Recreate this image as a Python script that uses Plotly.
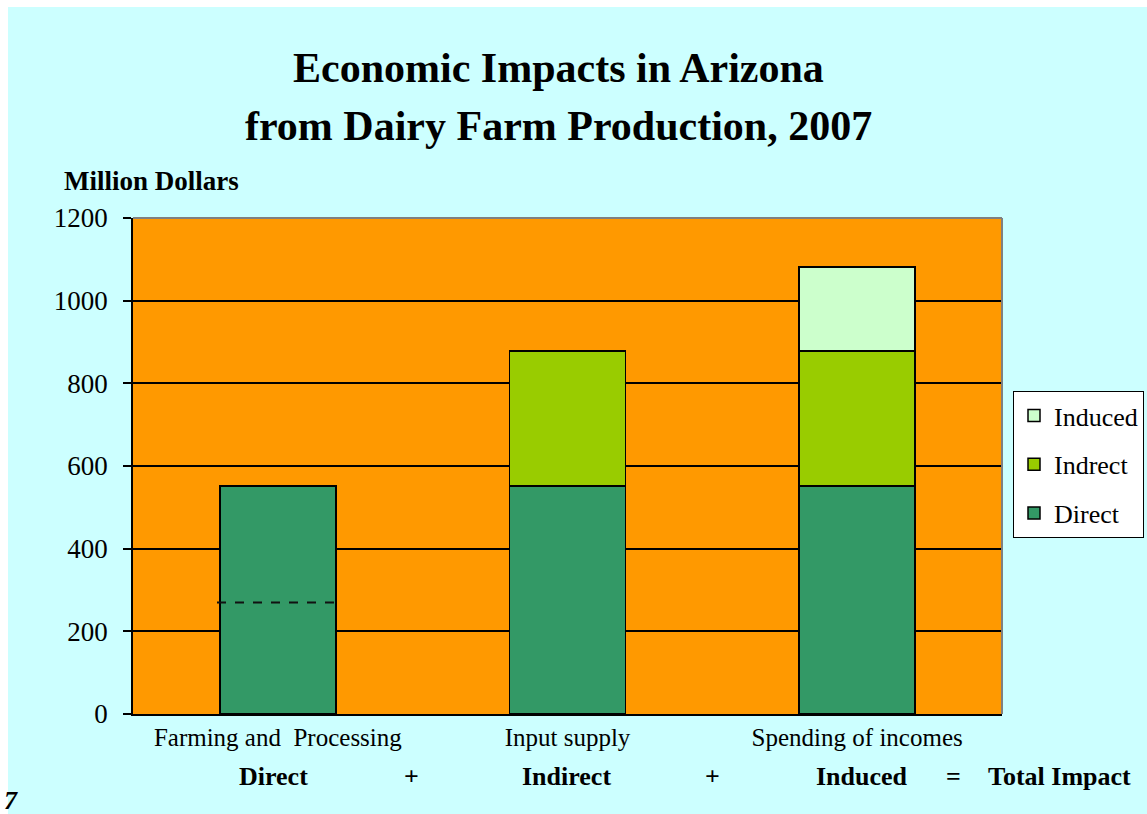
import plotly.graph_objects as go

# ---- data ----
categories = ["Farming and&nbsp; Processing", "Input supply", "Spending of incomes"]
direct = [552, 552, 552]
indirect = [None, 326, 326]
induced = [None, None, 203]
farming_split = 270          # dashed divider inside the first bar
y_ticks = [0, 200, 400, 600, 800, 1000, 1200]
bottom_labels = ["Direct", "+", "Indirect", "+", "Induced", "=", "Total Impact"]
bottom_label_px = [273, 411, 566, 712, 862, 953, 1059]

W, H = 1147, 814
L, R, T, B = 133, 145, 218, 100
PW, PH = W - L - R, H - T - B
FONT = "Liberation Serif"
BAR_W = 0.4

def px_x(px):
    return (px - L) / PW

def px_y(py):
    return (H - B - py) / PH

fig = go.Figure()
line = dict(color="black", width=1.5)
fig.add_bar(x=categories, y=direct, name="Direct", marker=dict(color="#339966", line=line),
            width=BAR_W, legendgroup="g3", legendrank=3)
fig.add_bar(x=categories, y=indirect, name="Indrect", marker=dict(color="#99CC00", line=line),
            width=BAR_W, legendgroup="g2", legendrank=2)
fig.add_bar(x=categories, y=induced, name="Induced", marker=dict(color="#CCFFCC", line=line),
            width=BAR_W, legendgroup="g1", legendrank=1)

shapes = [
    # white frame strips
    dict(type="rect", xref="paper", yref="paper", x0=px_x(0), x1=px_x(W), y0=px_y(0), y1=px_y(7),
         fillcolor="white", line=dict(width=0), layer="below"),
    dict(type="rect", xref="paper", yref="paper", x0=px_x(0), x1=px_x(8), y0=px_y(H), y1=px_y(0),
         fillcolor="white", line=dict(width=0), layer="below"),
    # grey top/right border of plot area
    dict(type="line", xref="paper", yref="paper", x0=0, x1=1, y0=1, y1=1,
         line=dict(color="#808080", width=2), layer="above"),
    dict(type="line", xref="paper", yref="paper", x0=1, x1=1, y0=0, y1=1,
         line=dict(color="#808080", width=2), layer="above"),
    # dashed divider in the first bar
    dict(type="line", xref="x", yref="y", x0=-BAR_W / 2 - 0.01, x1=BAR_W / 2, y0=farming_split, y1=farming_split,
         line=dict(color="#111111", width=2, dash="dash"), layer="above"),
]

annotations = [
    dict(text="<b>Economic Impacts in Arizona</b>", x=px_x(558), y=px_y(68), xref="paper", yref="paper",
         showarrow=False, xanchor="center", yanchor="middle", font=dict(family=FONT, size=42, color="black")),
    dict(text="<b>from Dairy Farm Production, 2007</b>", x=px_x(558), y=px_y(126), xref="paper", yref="paper",
         showarrow=False, xanchor="center", yanchor="middle", font=dict(family=FONT, size=42, color="black")),
    dict(text="<b>Million Dollars</b>", x=px_x(62), y=px_y(181), xref="paper", yref="paper",
         showarrow=False, xanchor="left", yanchor="middle", font=dict(family=FONT, size=27, color="black")),
    dict(text="<b><i>7</i></b>", x=px_x(2), y=px_y(800), xref="paper", yref="paper",
         showarrow=False, xanchor="left", yanchor="middle", font=dict(family=FONT, size=26, color="black")),
]
for lab, px in zip(bottom_labels, bottom_label_px):
    annotations.append(dict(text=f"<b>{lab}</b>", x=px_x(px), y=px_y(776), xref="paper", yref="paper",
                            showarrow=False, xanchor="center", yanchor="middle",
                            font=dict(family=FONT, size=26, color="black")))

fig.update_layout(
    width=W, height=H,
    margin=dict(l=L, r=R, t=T, b=B, autoexpand=False),
    barmode="stack",
    paper_bgcolor="#CCFFFF",
    plot_bgcolor="#FF9900",
    font=dict(family=FONT, color="black"),
    showlegend=True,
    legend=dict(x=px_x(1013), y=px_y(391), xanchor="left", yanchor="top",
                bgcolor="white", bordercolor="black", borderwidth=1,
                traceorder="grouped", tracegroupgap=12, itemwidth=30,
                font=dict(family=FONT, size=26, color="black")),
    xaxis=dict(showline=True, linecolor="black", linewidth=1.5, ticks="",
               tickfont=dict(family=FONT, size=25, color="black"), showgrid=False),
    yaxis=dict(range=[0, 1200], tickvals=y_ticks, showline=True, linecolor="black", linewidth=1.5,
               ticks="outside", ticklen=8, tickcolor="black", tickwidth=1.5, ticklabelstandoff=10,
               showgrid=True, gridcolor="black", gridwidth=1.5, zeroline=False,
               tickfont=dict(family=FONT, size=27, color="black")),
    shapes=shapes,
    annotations=annotations,
)

fig.write_html("out.html")
